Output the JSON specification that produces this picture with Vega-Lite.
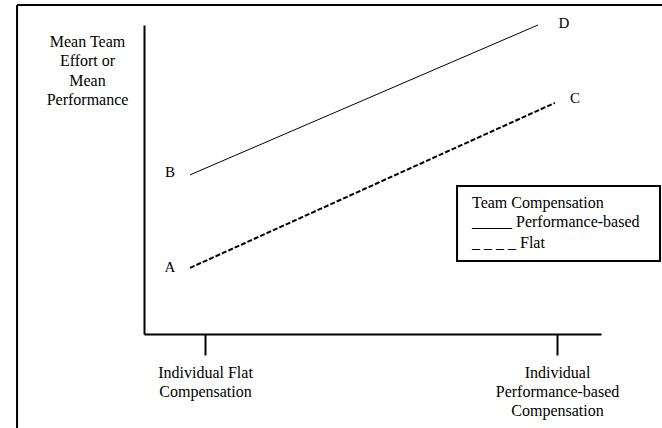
{
  "$schema": "https://vega.github.io/schema/vega-lite/v6.json",
  "width": 457,
  "height": 309,
  "autosize": {"type": "none"},
  "padding": {"left": 144, "top": 25, "right": 61, "bottom": 94},
  "background": "white",
  "config": {"view": {"stroke": null}, "font": "DejaVu Serif"},
  "encoding": {
    "x": {
      "field": "x", "type": "quantitative",
      "scale": {"domain": [-0.1733, 1.125], "nice": false, "zero": false},
      "axis": {
        "title": null, "values": [0, 1], "grid": false,
        "domainColor": "black", "domainWidth": 2,
        "tickColor": "black", "tickWidth": 2, "tickSize": 21,
        "labelPadding": 9, "labelFont": "Liberation Serif, DejaVu Serif, serif", "labelFontSize": 16,
        "labelColor": "black", "labelLineHeight": 19, "labelOverlap": false,
        "labelFlush": false, "labelBound": false,
        "labelExpr": "datum.value == 0 ? ['Individual Flat', 'Compensation'] : ['Individual', 'Performance-based', 'Compensation']"
      }
    },
    "y": {
      "field": "y", "type": "quantitative",
      "scale": {"domain": [0, 10], "nice": false, "zero": false},
      "axis": {
        "title": ["Mean Team", "Effort or", "Mean", "Performance"],
        "titleAngle": 0, "titleX": -57, "titleY": 8, "titleAlign": "center",
        "titleBaseline": "top", "titleFont": "Liberation Serif, DejaVu Serif, serif", "titleFontSize": 16,
        "titleFontWeight": "normal", "titleColor": "black", "titleLineHeight": 19.5,
        "ticks": false, "labels": false, "grid": false,
        "domainColor": "black", "domainWidth": 2
      }
    }
  },
  "layer": [
    {
      "data": {"values": [
        {"x": -0.534, "x2": 1.3, "y": 10.647, "y2": 10.647},
        {"x": -0.534, "x2": -0.534, "y": 10.647, "y2": -3.1}
      ]},
      "mark": {"type": "rule", "color": "black", "strokeWidth": 2},
      "encoding": {"x2": {"field": "x2"}, "y2": {"field": "y2"}}
    },
    {
      "data": {"values": [
        {"series": "Performance-based", "x": -0.0426, "y": 5.15},
        {"series": "Performance-based", "x": 0.946, "y": 10.0}
      ]},
      "mark": {"type": "line", "color": "black", "strokeWidth": 1}
    },
    {
      "data": {"values": [
        {"series": "Flat", "x": -0.0426, "y": 2.14},
        {"series": "Flat", "x": 0.994, "y": 7.48}
      ]},
      "mark": {"type": "line", "color": "black", "strokeWidth": 2, "strokeDash": [5, 2]}
    },
    {
      "data": {"values": [
        {"label": "B", "x": -0.0994, "y": 5.24},
        {"label": "A", "x": -0.0994, "y": 2.17},
        {"label": "D", "x": 1.02, "y": 10.06},
        {"label": "C", "x": 1.051, "y": 7.64}
      ]},
      "mark": {"type": "text", "font": "Liberation Serif, DejaVu Serif, serif", "fontSize": 15, "color": "black", "align": "center", "baseline": "middle"},
      "encoding": {"text": {"field": "label"}}
    },
    {
      "data": {"values": [
        {"x": 0.716, "x2": 1.2926, "y": 4.79, "y2": 2.36}
      ]},
      "mark": {"type": "rect", "fill": "white", "stroke": "black", "strokeWidth": 2},
      "encoding": {"x2": {"field": "x2"}, "y2": {"field": "y2"}}
    },
    {
      "data": {"values": [
        {"label": "Team Compensation", "x": 0.7585, "y": 4.24},
        {"label": "_____ Performance-based", "x": 0.7585, "y": 3.62},
        {"label": "_ _ _ _ Flat", "x": 0.7585, "y": 2.945}
      ]},
      "mark": {"type": "text", "font": "Liberation Serif, DejaVu Serif, serif", "fontSize": 16, "color": "black", "align": "left", "baseline": "middle"},
      "encoding": {"text": {"field": "label"}}
    }
  ]
}
